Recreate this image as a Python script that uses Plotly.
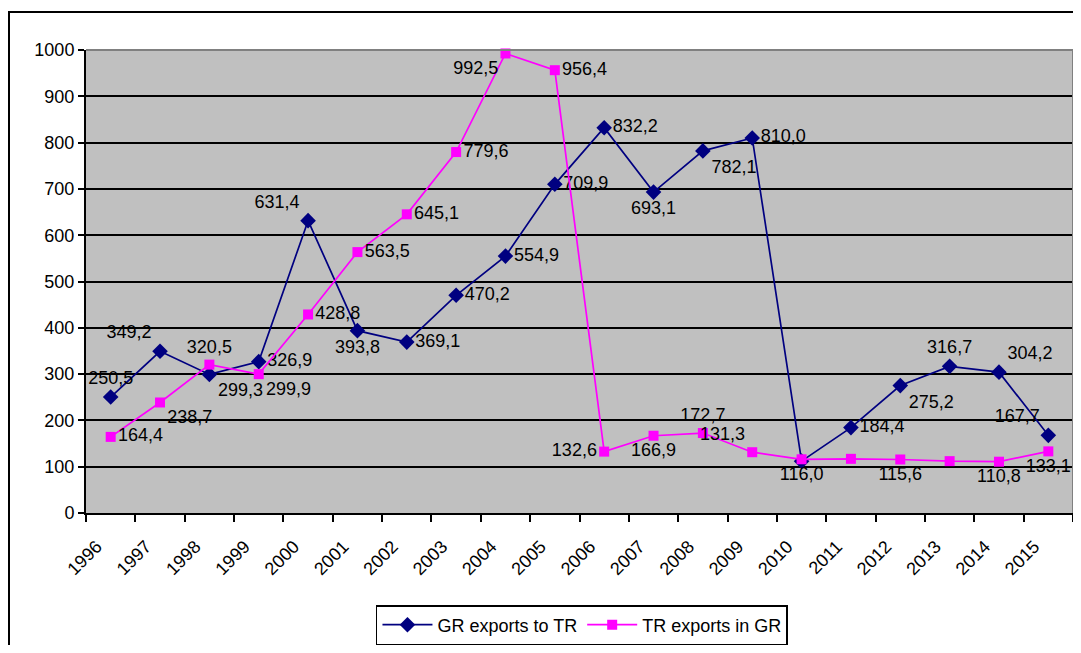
import plotly.graph_objects as go

years = [str(y) for y in range(1996, 2016)]
gr_exports = [250.5, 349.2, 299.3, 326.9, 631.4, 393.8, 369.1, 470.2, 554.9, 709.9,
              832.2, 693.1, 782.1, 810.0, 112.0, 184.4, 275.2, 316.7, 304.2, 167.7]
tr_exports = [164.4, 238.7, 320.5, 299.9, 428.8, 563.5, 645.1, 779.6, 992.5, 956.4,
              132.6, 166.9, 172.7, 131.3, 116.0, 117.0, 115.6, 112.0, 110.8, 133.1]
gr_labels = ["250,5", "349,2", "299,3", "326,9", "631,4", "393,8", "369,1", "470,2", "554,9", "709,9",
             "832,2", "693,1", "782,1", "810,0", "", "184,4", "275,2", "316,7", "304,2", "167,7"]
tr_labels = ["164,4", "238,7", "320,5", "299,9", "428,8", "563,5", "645,1", "779,6", "992,5", "956,4",
             "132,6", "166,9", "172,7", "131,3", "116,0", "", "115,6", "", "110,8", "133,1"]

gr_pos = ["top center", "top left", "bottom right", "middle right", "top left", "bottom center",
          "middle right", "middle right", "middle right", "middle right", "middle right",
          "bottom center", "bottom right", "middle right", "bottom center", "middle right",
          "bottom right", "top center", "top right", "top left"]
tr_pos = ["middle right", "bottom right", "top center", "bottom right", "middle right",
          "middle right", "middle right", "middle right", "bottom left", "middle right",
          "middle left", "bottom center", "top center", "top left", "bottom center",
          "bottom center", "bottom center", "bottom center", "bottom center", "bottom center"]

FONT = "Liberation Sans, Arial, sans-serif"
FS = 18

W, H = 1065, 637
L, R, T, B = 78, 0, 42, 132
PW = W - L - R
PH = H - T - B

fig = go.Figure()
fig.add_trace(go.Scatter(
    x=years, y=gr_exports, mode="lines+markers+text", name="GR exports to TR",
    line=dict(color="#000080", width=1.7),
    marker=dict(symbol="diamond", size=12, color="#000080"),
    text=gr_labels, textposition=gr_pos,
    textfont=dict(family=FONT, size=FS, color="black"),
    cliponaxis=False,
))
fig.add_trace(go.Scatter(
    x=years, y=tr_exports, mode="lines+markers+text", name="TR exports in GR",
    line=dict(color="#FF00FF", width=1.7),
    marker=dict(symbol="square", size=10, color="#FF00FF"),
    text=tr_labels, textposition=tr_pos,
    textfont=dict(family=FONT, size=FS, color="black"),
    cliponaxis=False,
))

fig.update_layout(
    width=W, height=H,
    margin=dict(l=L, r=R, t=T, b=B, pad=0, autoexpand=False),
    paper_bgcolor="white",
    plot_bgcolor="#C0C0C0",
    font=dict(family=FONT, size=FS, color="black"),
    showlegend=True,
    legend=dict(
        orientation="h", x=0.5025, xanchor="center",
        yref="container", y=1 - 597 / H, yanchor="top",
        bordercolor="black", borderwidth=1.5, bgcolor="white",
        font=dict(family=FONT, size=18, color="black"),
        itemwidth=50,
    ),
    xaxis=dict(
        type="category", range=[-0.5, 19.5], tickangle=-45, tickson="boundaries",
        ticks="outside", ticklen=7, tickcolor="black", tickwidth=1.5,
        showline=True, linecolor="black", linewidth=2,
        showgrid=False, tickfont=dict(size=FS),
        ticklabelstandoff=14, ticklabelshift=-14,
    ),
    yaxis=dict(
        range=[0, 1000], dtick=100, ticks="outside", ticklen=6, tickcolor="black", tickwidth=1.5,
        showline=True, linecolor="black", linewidth=2,
        showgrid=True, gridcolor="black", gridwidth=1.6,
        zeroline=False, tickfont=dict(size=FS),
    ),
    shapes=[
        dict(type="rect", xref="paper", yref="paper",
             x0=-(L - 1) / PW, x1=1.05, y0=-(B + 20) / PH, y1=1 + 38 / PH,
             line=dict(color="black", width=2), fillcolor="rgba(0,0,0,0)", layer="below"),
        dict(type="line", xref="paper", yref="paper", x0=0, x1=1, y0=1, y1=1,
             line=dict(color="#808080", width=2)),
        dict(type="line", xref="paper", yref="paper", x0=1, x1=1, y0=0, y1=1,
             line=dict(color="#808080", width=2)),
    ],
)

fig.write_html("out.html")
